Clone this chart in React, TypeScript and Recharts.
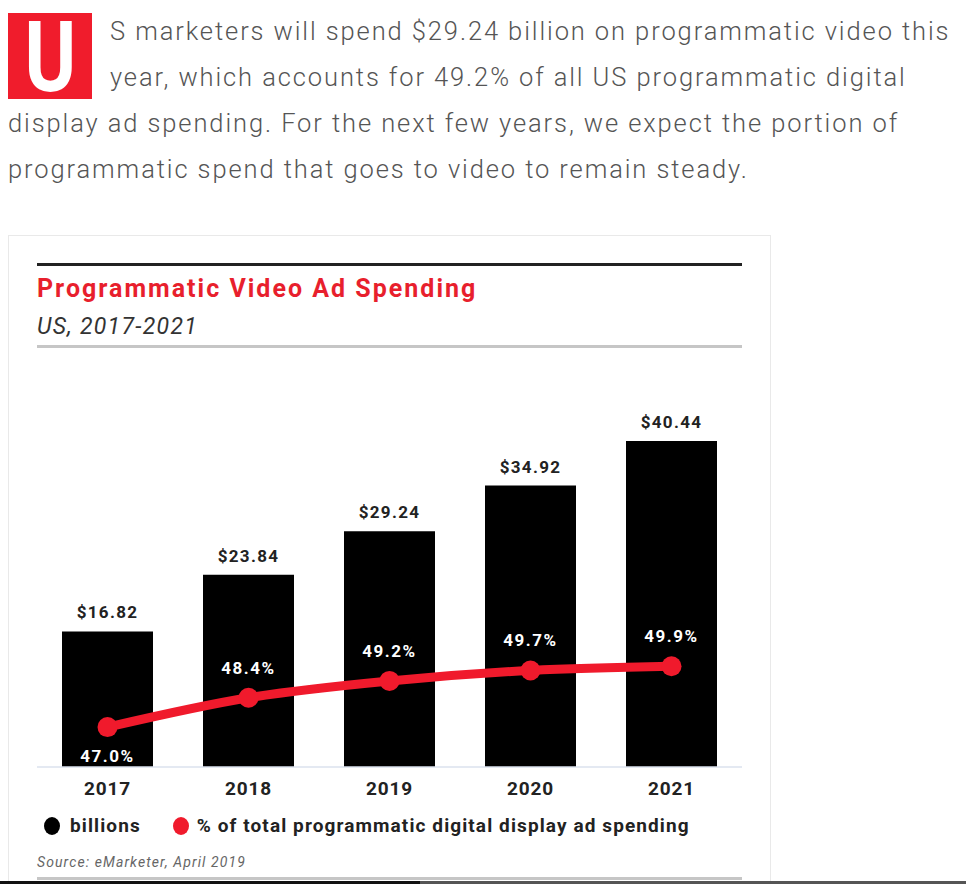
import React from 'react';
import { ComposedChart, Bar, Line, XAxis, YAxis, LabelList } from 'recharts';

const years = ['2017', '2018', '2019', '2020', '2021'];
const spendBillions = [16.82, 23.84, 29.24, 34.92, 40.44];
const shareOfTotal = [47.0, 48.4, 49.2, 49.7, 49.9];

const RED = '#f01a2c';
const FONT = 'Roboto, "Noto Sans", sans-serif';

const rows = years.map((year, i) => ({
  year,
  spend: spendBillions[i],
  share: shareOfTotal[i],
}));

const YearTick = (props: any) => {
  const { x, y, payload } = props;
  return (
    <text x={x} y={y + 13} textAnchor="middle" dominantBaseline="central"
      fontFamily={FONT} fontSize={19} fontWeight={700} fill="#222" letterSpacing={0.8}>
      {payload.value}
    </text>
  );
};

const SpendLabel = (props: any) => {
  const { x, y, width, value } = props;
  return (
    <text x={x + width / 2} y={y - 19} textAnchor="middle" dominantBaseline="central"
      fontFamily={FONT} fontSize={17} fontWeight={700} fill="#222" letterSpacing={1.3}>
      ${value.toFixed(2)}
    </text>
  );
};

const ShareLabel = (props: any) => {
  const { x, y, value, index } = props;
  // first point label sits below the dot, the rest above
  const ty = index === 0 ? y + 29 : y - 30;
  return (
    <text x={x} y={ty} textAnchor="middle" dominantBaseline="central"
      fontFamily={FONT} fontSize={17} fontWeight={700} fill="#fff" letterSpacing={1.5}>
      {value.toFixed(1)}%
    </text>
  );
};

export default function App() {
  return (
    <div style={{ position: 'absolute', left: 0, top: 0, width: 966, height: 884, background: '#fff', overflow: 'hidden', fontFamily: FONT }}>
      {/* drop cap */}
      <div style={{ position: 'absolute', left: 8, top: 13, width: 84, height: 86, background: '#f01c2c', color: '#fff', fontWeight: 700, fontSize: 98, lineHeight: '90px', textAlign: 'center' }}>
        <span style={{ display: 'inline-block', transform: 'scaleX(0.8)' }}>U</span>
      </div>
      <div style={{ position: 'absolute', left: 8, top: 8, width: 958, color: '#555', fontSize: 25.5, fontWeight: 300, lineHeight: '46px', letterSpacing: 1.9, whiteSpace: 'nowrap' }}>
        <div style={{ paddingLeft: 102 }}>S marketers will spend $29.24 billion on programmatic video this</div>
        <div style={{ paddingLeft: 102 }}>year, which accounts for 49.2% of all US programmatic digital</div>
        <div>display ad spending. For the next few years, we expect the portion of</div>
        <div>programmatic spend that goes to video to remain steady.</div>
      </div>

      {/* card */}
      <div style={{ position: 'absolute', left: 8, top: 235, width: 763, height: 660, border: '1px solid #e9e9e9', boxSizing: 'border-box' }} />
      <div style={{ position: 'absolute', left: 37, top: 263, width: 705, height: 3, background: '#222' }} />
      <div style={{ position: 'absolute', left: 37, top: 272, color: '#e81f2d', fontSize: 25, fontWeight: 700, lineHeight: '34px', letterSpacing: 2 }}>Programmatic Video Ad Spending</div>
      <div style={{ position: 'absolute', left: 37, top: 311, color: '#333', fontSize: 23, fontStyle: 'italic', lineHeight: '32px', letterSpacing: 1.3 }}>US, 2017-2021</div>
      <div style={{ position: 'absolute', left: 37, top: 345, width: 705, height: 3, background: '#c6c6c6' }} />

      <div style={{ position: 'absolute', left: 37, top: 350 }}>
        <ComposedChart width={705} height={457} data={rows} margin={{ top: 14, right: 0, left: 0, bottom: 0 }}>
          <XAxis dataKey="year" axisLine={{ stroke: '#dbe2ee', strokeWidth: 1.5 }} tickLine={false} height={40} tick={<YearTick />} interval={0} />
          <YAxis yAxisId="spend" domain={[0, 50]} hide />
          <YAxis yAxisId="share" domain={[45.1, 64.3]} hide />
          <Bar yAxisId="spend" dataKey="spend" fill="#000" barSize={91} isAnimationActive={false}>
            <LabelList dataKey="spend" content={<SpendLabel />} />
          </Bar>
          <Line yAxisId="share" dataKey="share" type="monotone" stroke={RED} strokeWidth={9}
            dot={{ r: 10, fill: RED, stroke: 'none' }} activeDot={false} isAnimationActive={false}>
            <LabelList dataKey="share" content={<ShareLabel />} />
          </Line>
        </ComposedChart>
      </div>

      {/* legend */}
      <div style={{ position: 'absolute', left: 44, top: 812, display: 'flex', alignItems: 'center', fontSize: 19, fontWeight: 700, color: '#222', lineHeight: '28px', letterSpacing: 1.1 }}>
        <span style={{ width: 16, height: 18, borderRadius: '50%', background: '#000', display: 'inline-block', marginRight: 10 }} />
        <span>billions</span>
        <span style={{ width: 16, height: 18, borderRadius: '50%', background: RED, display: 'inline-block', marginLeft: 32, marginRight: 8 }} />
        <span>% of total programmatic digital display ad spending</span>
      </div>

      <div style={{ position: 'absolute', left: 37, top: 852, color: '#666', fontSize: 14, fontStyle: 'italic', lineHeight: '20px', letterSpacing: 1.1 }}>Source: eMarketer, April 2019</div>
      <div style={{ position: 'absolute', left: 37, top: 877, width: 705, height: 3, background: '#c6c6c6' }} />
      <div style={{ position: 'absolute', left: 0, top: 881, width: 420, height: 3, background: '#111' }} />
      <div style={{ position: 'absolute', left: 420, top: 881, width: 546, height: 3, background: '#555' }} />
    </div>
  );
}
